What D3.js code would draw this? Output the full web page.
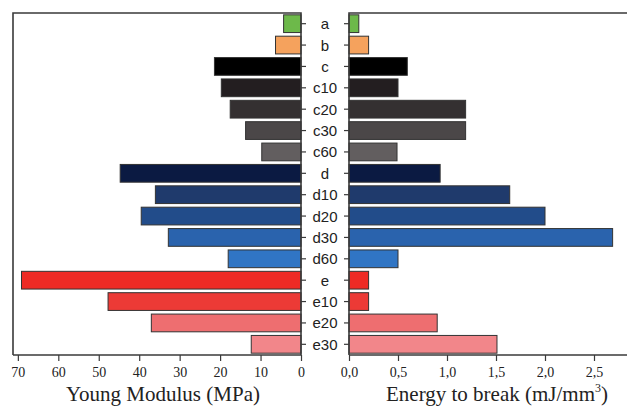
<!DOCTYPE html>
<html>
<head>
<meta charset="utf-8">
<script src="https://cdn.jsdelivr.net/npm/d3@7"></script>
<style>
  body { margin: 0; background: #fff; }
  svg { display: block; }
</style>
</head>
<body>
<svg id="chart" width="627" height="406"></svg>
<script>
// samples, top to bottom
const categories = ["a", "b", "c", "c10", "c20", "c30", "c60", "d", "d10", "d20", "d30", "d60", "e", "e10", "e20", "e30"];
const youngModulus = [4.3, 6.3, 21.4, 19.7, 17.5, 13.7, 9.7, 44.7, 36, 39.5, 32.8, 18, 69.1, 47.7, 37, 12.3];
const energyToBreak = [0.10, 0.20, 0.595, 0.50, 1.19, 1.19, 0.49, 0.93, 1.64, 2.0, 2.69, 0.50, 0.20, 0.20, 0.90, 1.51];
const barColors = ["#6db94a", "#f5a25d", "#000000", "#231e20", "#343031", "#4b4748", "#625e5f",
  "#0b1a42", "#1f3a6c", "#224c8a", "#2a63ad", "#3075c4", "#ee2a25", "#ec3a36", "#ee6e70", "#f2868a"];
const modulusTicks = [70, 60, 50, 40, 30, 20, 10, 0];
const energyTicks = [0, 0.5, 1.0, 1.5, 2.0, 2.5];

const svg = d3.select("#chart");
const plotTop = 13, plotBottom = 355;
const axisColor = "#3a3a3a";

const y = d3.scaleBand()
    .domain(categories)
    .range([plotTop, plotBottom])
    .paddingInner(0.17)
    .paddingOuter(0.085);

// left panel: Young modulus, reversed
const xL = d3.scaleLinear().domain([71.2, 0]).range([13, 301]);
// right panel: energy to break
const xR = d3.scaleLinear().domain([0, 2.86]).range([349, 349 + 98 * 2.86]);

// bars
svg.append("g")
    .selectAll("rect")
    .data(categories)
    .enter()
    .append("rect")
    .attr("x", (d, i) => xL(youngModulus[i]))
    .attr("y", d => y(d))
    .attr("width", (d, i) => xL(0) - xL(youngModulus[i]))
    .attr("height", y.bandwidth())
    .attr("fill", (d, i) => barColors[i])
    .attr("stroke", "#333")
    .attr("stroke-width", 1);

svg.append("g")
    .selectAll("rect")
    .data(categories)
    .enter()
    .append("rect")
    .attr("x", xR(0))
    .attr("y", d => y(d))
    .attr("width", (d, i) => xR(energyToBreak[i]) - xR(0))
    .attr("height", y.bandwidth())
    .attr("fill", (d, i) => barColors[i])
    .attr("stroke", "#333")
    .attr("stroke-width", 1);

// frames (top + side lines)
const frame = svg.append("g")
    .attr("stroke", axisColor)
    .attr("stroke-width", 1.6)
    .attr("fill", "none");
frame.append("path").attr("d", `M${xL.range()[0]},${plotBottom}V${plotTop}H${xL.range()[1]}V${plotBottom}`);
frame.append("path").attr("d", `M${xR.range()[1]},${plotTop}H${xR.range()[0]}V${plotBottom}`);

// category ticks on inner edges
const catTicks = svg.append("g").attr("stroke", axisColor).attr("stroke-width", 1.2);
categories.forEach(c => {
    const cy = y(c) + y.bandwidth() / 2;
    catTicks.append("line").attr("x1", 301).attr("x2", 306).attr("y1", cy).attr("y2", cy);
    catTicks.append("line").attr("x1", 344).attr("x2", 349).attr("y1", cy).attr("y2", cy);
});

svg.append("g")
    .selectAll("text")
    .data(categories)
    .enter()
    .append("text")
    .attr("x", 325)
    .attr("y", d => y(d) + y.bandwidth() / 2)
    .attr("text-anchor", "middle")
    .attr("dominant-baseline", "central")
    .attr("font-family", "Liberation Sans, Arial, sans-serif")
    .attr("font-size", 15)
    .attr("fill", "#222")
    .text(d => d);

// bottom axes
const fmtComma = d => d3.format(".1f")(d).replace(".", ",");

const drawAxis = (scale, ticks, minor, fmt) => {
    const g = svg.append("g").attr("transform", `translate(0,${plotBottom})`);
    g.call(d3.axisBottom(scale).tickValues(minor).tickSize(4).tickFormat(""));
    g.call(d3.axisBottom(scale).tickValues(ticks).tickSize(6).tickFormat(fmt));
    g.selectAll("path.domain").remove();
    g.selectAll("line").attr("stroke", axisColor).attr("stroke-width", 1.2);
    g.selectAll("text")
        .attr("font-family", "Liberation Serif, Times New Roman, serif")
        .attr("font-size", 14)
        .attr("fill", "#222")
        .attr("dy", "0.95em");
    g.append("line")
        .attr("x1", scale.range()[0]).attr("x2", scale.range()[1])
        .attr("stroke", axisColor).attr("stroke-width", 1.6);
    return g;
};

drawAxis(xL, modulusTicks, d3.range(0, 71, 5), d => d);
drawAxis(xR, energyTicks, d3.range(0, 2.86, 0.25), fmtComma);

// axis titles
svg.append("text")
    .attr("x", 163)
    .attr("y", 401)
    .attr("text-anchor", "middle")
    .attr("font-family", "Liberation Serif, Times New Roman, serif")
    .attr("font-size", 21)
    .attr("fill", "#222")
    .text("Young Modulus (MPa)");

const t2 = svg.append("text")
    .attr("x", 497)
    .attr("y", 401)
    .attr("text-anchor", "middle")
    .attr("font-family", "Liberation Serif, Times New Roman, serif")
    .attr("font-size", 21)
    .attr("fill", "#222");
t2.append("tspan").text("Energy to break (mJ/mm");
t2.append("tspan").attr("dy", -9).attr("font-size", 12).text("3");
t2.append("tspan").attr("dy", 9).text(")");
</script>
</body>
</html>
